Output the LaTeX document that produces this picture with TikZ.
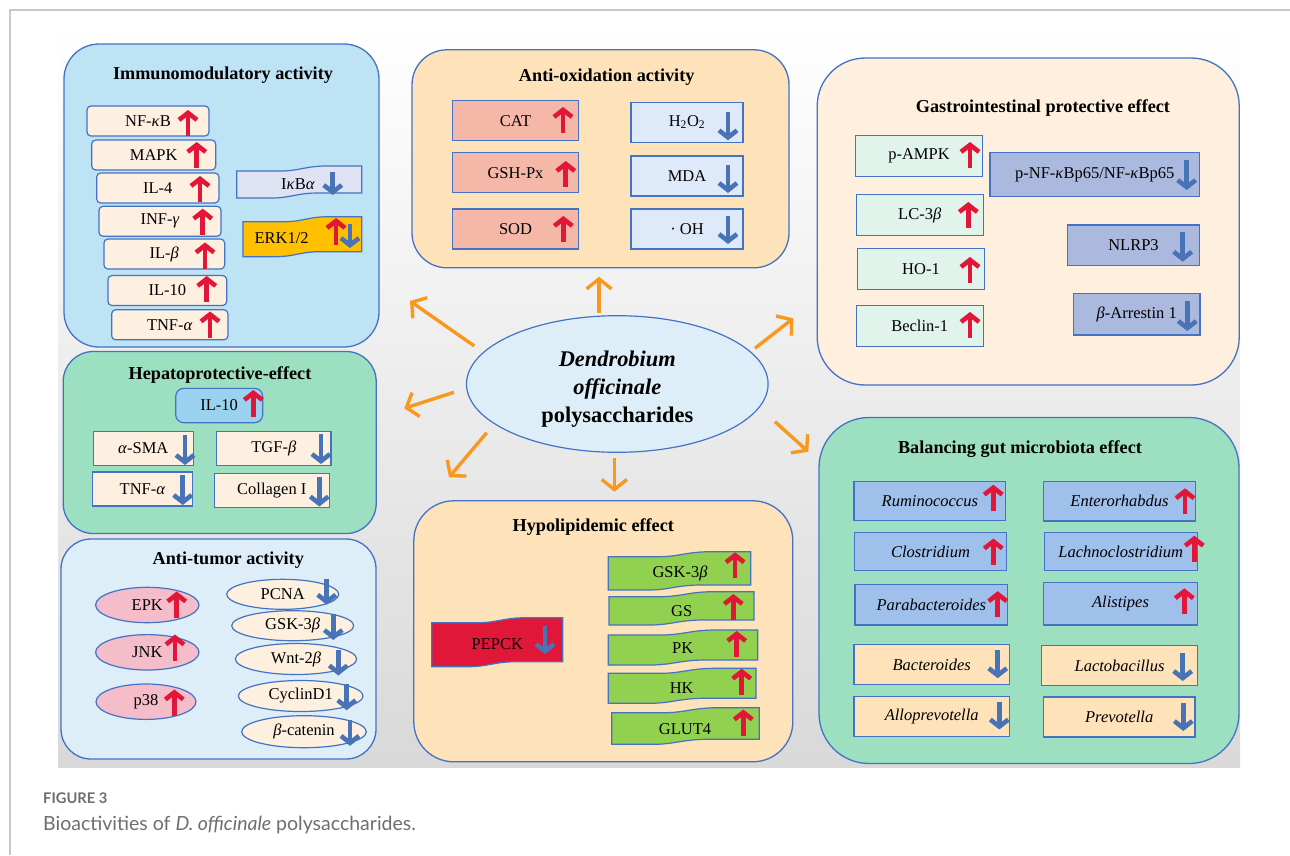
\documentclass[tikz,border=0pt]{standalone}
\usepackage{fontspec}
\setmainfont{Liberation Serif}[
  BoldFont={Liberation Serif Bold},
  ItalicFont={Liberation Serif Italic},
  BoldItalicFont={Liberation Serif Bold Italic}]
\newfontfamily\capfont{Lato}
\usepackage{tikz}
\usetikzlibrary{arrows.meta,shapes.geometric,positioning}
\usepackage{xcolor}
\definecolor{edgeBlue}{RGB}{68,114,196}
\definecolor{immuFill}{RGB}{190,227,245}
\definecolor{peachItem}{RGB}{253,240,225}
\definecolor{oxFill}{RGB}{253,226,186}
\definecolor{catPink}{RGB}{245,184,168}
\definecolor{hoBlue}{RGB}{222,233,250}
\definecolor{gastroFill}{RGB}{254,239,222}
\definecolor{mintItem}{RGB}{224,244,236}
\definecolor{periItem}{RGB}{172,185,222}
\definecolor{hepaGreen}{RGB}{157,224,193}
\definecolor{ilBlue}{RGB}{155,210,240}
\definecolor{tumorFill}{RGB}{221,238,249}
\definecolor{pinkEll}{RGB}{245,188,202}
\definecolor{peachEll}{RGB}{253,240,222}
\definecolor{pepRed}{RGB}{225,23,58}
\definecolor{leafGreen}{RGB}{146,208,80}
\definecolor{gutBlue}{RGB}{160,192,236}
\definecolor{ikbFill}{RGB}{222,226,243}
\definecolor{erkGold}{RGB}{255,192,0}
\definecolor{orangeArr}{RGB}{248,152,30}
\definecolor{upRed}{RGB}{226,22,56}
\definecolor{dnBlue}{RGB}{72,115,182}
\definecolor{frameGray}{RGB}{200,200,200}
\definecolor{capGray}{RGB}{110,110,110}

\newcommand{\gk}[1]{\textit{#1}}
\newcommand{\flagpath}[5]{%
  \filldraw[draw=edgeBlue, line width=1.2pt, fill=#5]
    (#1,{#2+5}) -- ({#1+0.35*(#3-#1)},{#2+5})
    .. controls ({#1+0.5*(#3-#1)},{#2+5}) and ({#1+0.55*(#3-#1)},#2) .. ({#1+0.72*(#3-#1)},#2)
    -- (#3,#2) -- (#3,{#4-5}) -- ({#1+0.65*(#3-#1)},{#4-5})
    .. controls ({#1+0.48*(#3-#1)},{#4-5}) and ({#1+0.43*(#3-#1)},#4) .. ({#1+0.28*(#3-#1)},#4)
    -- (#1,#4) -- cycle;}

\begin{document}
\begin{tikzpicture}[x=1pt, y=-1pt,
  panel/.style={draw=edgeBlue, line width=1.3pt, rounded corners=#1, inner sep=0pt},
  ttl/.style={font=\fontsize{18.2}{21}\selectfont\bfseries},
  itm/.style={draw=edgeBlue, line width=1.2pt, fill=#1, inner sep=0pt,
              font=\fontsize{16.5}{19}\selectfont},
  ell/.style={ellipse, itm=#1},
  lbl/.style={font=\fontsize{16.5}{19}\selectfont},
  upa/.style={draw=upRed, line width=4.6pt, -{Straight Barb[length=7pt,width=18pt]}},
  dna/.style={draw=dnBlue, line width=4.6pt, -{Straight Barb[length=7pt,width=18pt]}},
  spoke/.style={draw=orangeArr, line width=3.4pt, -{Straight Barb[length=10pt,width=25pt]}}
]
  \useasboundingbox (0,0) rectangle (1290,855);
  \draw[frameGray, line width=1.5pt] (10,855) -- (10,10) -- (1290,10);
  \shade[top color=white, bottom color=black!15] (58,22) rectangle (1240,767);

  \node[panel=35pt, fill=immuFill, minimum width=315, minimum height=303] (immu) at (221.5,195.5) {};
  \node[panel=35pt, fill=oxFill, minimum width=377, minimum height=218] (antiox) at (600.5,158.8) {};
  \node[panel=48pt, fill=gastroFill, minimum width=422, minimum height=327] (gastro) at (1028.2,221.5) {};
  \node[panel=30pt, fill=hepaGreen, minimum width=313, minimum height=182] (hepa) at (219.7,442.5) {};
  \node[panel=30pt, fill=tumorFill, minimum width=315, minimum height=220] (tumor) at (218.5,649) {};
  \node[panel=40pt, fill=oxFill, minimum width=379, minimum height=261] (hypo) at (603.3,631.3) {};
  \node[panel=50pt, fill=hepaGreen, minimum width=420, minimum height=346] (gut) at (1029,590.5) {};

  \node[ttl] (immuT) at (223,75) {Immunomodulatory activity};
  \node[ttl] (antioxT) at (606.7,76.7) {Anti-oxidation activity};
  \node[ttl] (gastroT) at (1043,108.3) {Gastrointestinal protective effect};
  \node[ttl] (hepaT) at (220,375) {Hepatoprotective-effect};
  \node[ttl] (tumorT) at (228.3,560) {Anti-tumor activity};
  \node[ttl] (hypoT) at (593.3,527.3) {Hypolipidemic effect};
  \node[ttl] (gutT) at (1020,449.3) {Balancing gut microbiota effect};

  \coordinate (s1) at (599,313.3);   \coordinate (e1) at (599,276.7);
  \coordinate (s2) at (474.3,346);   \coordinate (e2) at (410,301);
  \coordinate (s3) at (454,392.3);   \coordinate (e3) at (404.3,408.3);
  \coordinate (s4) at (486.7,432.7); \coordinate (e4) at (449,477.3);
  \coordinate (s5) at (614.3,458.3); \coordinate (e5) at (614.3,491.7);
  \coordinate (s6) at (755,348.3);   \coordinate (e6) at (793.3,318.3);
  \coordinate (s7) at (775,421.7);   \coordinate (e7) at (808.3,451.7);
  \foreach \i in {1,...,7}
    \draw[spoke] (s\i) -- (e\i);

  \node[ellipse, draw=edgeBlue, line width=1.2pt, fill=tumorFill, inner sep=0pt,
        minimum width=301.6, minimum height=136.6] (dop) at (617.3,384) {};
  \node[align=center, font=\fontsize{22.4}{28}\selectfont\bfseries] (dopT) at (617.3,389)
    {\textit{Dendrobium}\\\textit{officinale}\\polysaccharides};

  \foreach \nm/\x/\y/\w/\t/\ax/\ay in {
    nfkb/148/121/122/{NF-\gk{κ}B}/188/123,
    mapk/153.7/155/124/MAPK/196.7/155,
    ilfour/157.8/188/122.3/IL-4/200/189,
    infg/160/221.3/122/{INF-\gk{γ}}/202.7/221.7,
    ilbeta/164.3/254/120.7/{IL-\gk{β}}/205/255.5,
    ilten/167.3/290.5/118.7/IL-10/206.7/289,
    tnf/169.8/324.8/116.3/{TNF-\gk{α}}/210/324.5}
  {
    \node[itm=peachItem, rounded corners=4pt, minimum width=\w, minimum height=30] (\nm) at (\x,\y) {\t};
    \draw[upa] (\ax,{\ay+13}) -- (\ax,{\ay-13});
  }
  \flagpath{236.7}{166}{361.7}{198}{ikbFill}
  \node[lbl] (ikb) at (298,184) {I\gk{κ}B\gk{α}};
  \draw[dna] (332.7,172) -- (332.7,195);
  \flagpath{243}{216.7}{361.7}{256.7}{erkGold}
  \node[lbl] (erk) at (281.7,238) {ERK1/2};
  \draw[upa] (336,245) -- (336,218);
  \draw[dna] (350,224) -- (350,248);

  \foreach \nm/\y/\t/\ax/\ay in {
    cat/120.7/CAT/563/120, gpx/172.7/GSH-Px/565.7/174, sod/229/SOD/563.3/229}
  {
    \node[itm=catPink, minimum width=126, minimum height=40] (\nm) at (515.5,\y) {\t};
    \draw[upa] (\ax,{\ay+13}) -- (\ax,{\ay-13});
  }
  \foreach \nm/\y/\t/\ay in {
    hoo/122.2/{H\textsubscript{2}O\textsubscript{2}}/126.3, mda/176/MDA/179, ohr/229/{· OH}/230}
  {
    \node[itm=hoBlue, minimum width=112, minimum height=40] (\nm) at (687,\y) {\t};
    \draw[dna] (728,{\ay-14}) -- (728,{\ay+14});
  }

  \foreach \nm/\x/\y/\t/\ax/\ay in {
    pampk/919/155.8/p-AMPK/970/155, lcb/919.7/215/{LC-3\gk{β}}/968.3/215,
    hoone/921/268.8/HO-1/970/270, beclin/919.7/326.2/Beclin-1/970/325}
  {
    \node[itm=mintItem, minimum width=127, minimum height=41] (\nm) at (\x,\y) {\t};
    \draw[upa] (\ax,{\ay+13}) -- (\ax,{\ay-13});
  }
  \foreach \nm/\x/\y/\w/\h/\t/\ax/\ay in {
    pnf/1094.7/174.5/209.3/44.3/{p-NF-\gk{κ}Bp65/NF-\gk{κ}Bp65}/1186.7/175,
    nlrp/1133.5/245.3/131.7/40.7/NLRP3/1182.7/246.7,
    barr/1136.7/314.2/126.7/41.7/{\gk{β}-Arrestin 1}/1187.3/316}
  {
    \node[itm=periItem, minimum width=\w, minimum height=\h] (\nm) at (\x,\y) {\t};
    \draw[dna] (\ax,{\ay-15}) -- (\ax,{\ay+15});
  }

  \node[itm=ilBlue, rounded corners=8pt, minimum width=87, minimum height=34.3] (ilh) at (219.2,405.5) {IL-10};
  \draw[upa] (253.3,417) -- (253.3,390);
  \foreach \nm/\x/\y/\w/\t/\ax/\ay in {
    asma/143.3/448.3/100/{\gk{α}-SMA}/185/450,
    tgf/273.8/448.5/114.3/{TGF-\gk{β}}/321/449,
    tnfh/142.5/489/100.3/{TNF-\gk{α}}/182.7/490,
    coll/271.8/490.3/115/Collagen I/319.3/491.5}
  {
    \node[itm=peachItem, minimum width=\w, minimum height=34] (\nm) at (\x,\y) {\t};
    \draw[dna] (\ax,{\ay-15}) -- (\ax,{\ay+15});
  }

  \foreach \nm/\x/\y/\w/\t/\ax/\ay in {
    epk/147.3/605/103.4/EPK/176.7/604.5,
    jnk/147.3/652.3/103.4/JNK/175/647.5,
    pte/146/701.7/100/p38/174.3/702.5}
  {
    \node[ell=pinkEll, minimum width=\w, minimum height=35.4] (\nm) at (\x,\y) {\t};
    \draw[upa] (\ax,{\ay+13}) -- (\ax,{\ay-13});
  }
  \foreach \nm/\x/\y/\w/\h/\t/\ax/\ay in {
    pcna/282.7/594.3/112/30/PCNA/326.7/591.7,
    gskt/292.7/625.7/122/30/{GSK-3\gk{β}}/333.3/627,
    wnt/296/659/121.3/31/{Wnt-2\gk{β}}/338.3/662.5,
    cyc/300.7/696/124.7/31/CyclinD1/346.7/697.2,
    bcat/304/731.7/124.7/32/{\gk{β}-catenin}/350/732.8}
  {
    \node[ell=peachEll, minimum width=\w, minimum height=\h] (\nm) at (\x,\y) {\t};
    \draw[dna] (\ax,{\ay-13}) -- (\ax,{\ay+13});
  }

  \flagpath{431.7}{617.7}{562.7}{666.7}{pepRed}
  \node[lbl] (pepck) at (497.3,644.3) {PEPCK};
  \draw[dna] (545,626) -- (545,654);
  \foreach \nm/\xa/\ya/\xb/\yb/\tx/\ty/\t/\ax/\ay in {
    gskh/608.3/551.7/750.7/590/680/573.3/{GSK-3\gk{β}}/735/565.3,
    gs/609/591.7/754/625/681.7/611/GS/733.3/607,
    pk/608.3/630/757.7/665/682.7/648.3/PK/736.7/644,
    hk/608.3/668.3/756/703.3/681.7/687.7/HK/741.7/681.7,
    glut/611.7/707.7/759.3/744.3/685/729.3/GLUT4/743.3/722.5}
  {
    \flagpath{\xa}{\ya}{\xb}{\yb}{leafGreen}
    \node[lbl] (\nm) at (\tx,\ty) {\t};
    \draw[upa] (\ax,{\ay+13}) -- (\ax,{\ay-13});
  }

  \foreach \nm/\x/\y/\w/\h/\t/\ax/\ay in {
    rumi/929.8/501/151.7/38.7/Ruminococcus/993.3/497.7,
    ente/1119.5/501.3/152.3/39.3/Enterorhabdus/1185/501.3,
    clos/930.5/551.5/152.3/38.3/Clostridium/993.3/551.5,
    lach/1120.8/551.5/153/38.3/Lachnoclostridium/1194.3/548.7,
    para/931.3/604.7/152.7/40.7/Parabacteroides/997.7/604.2,
    alis/1120.5/603.7/154.3/42.7/Alistipes/1184.3/601.3}
  {
    \node[itm=gutBlue, minimum width=\w, minimum height=\h, font=\fontsize{16.5}{19}\selectfont\itshape] (\nm) at (\x,\y) {\t};
    \draw[upa] (\ax,{\ay+13}) -- (\ax,{\ay-13});
  }
  \foreach \nm/\x/\y/\w/\t/\ax/\ay in {
    bact/931.7/664.7/155.3/Bacteroides/997.7/664.2,
    lacto/1119.5/665.7/155.7/Lactobacillus/1182.7/667,
    allo/931.7/716.7/155.3/Alloprevotella/999.3/715.5,
    prev/1119.2/717/151.7/Prevotella/1183.3/717}
  {
    \node[itm=oxFill, minimum width=\w, minimum height=40, font=\fontsize{16.5}{19}\selectfont\itshape] (\nm) at (\x,\y) {\t};
    \draw[dna] (\ax,{\ay-14}) -- (\ax,{\ay+14});
  }

  \node[anchor=base west, inner sep=0pt, text=capGray,
        font=\capfont\bfseries\fontsize{14.7}{17}\selectfont] (figlbl) at (43,803.5) {FIGURE 3};
  \node[anchor=base west, inner sep=0pt, text=capGray,
        font=\capfont\fontsize{19.5}{23}\selectfont] (figcap) at (43,830)
    {Bioactivities of \textit{D. officinale} polysaccharides.};
\end{tikzpicture}
\end{document}
